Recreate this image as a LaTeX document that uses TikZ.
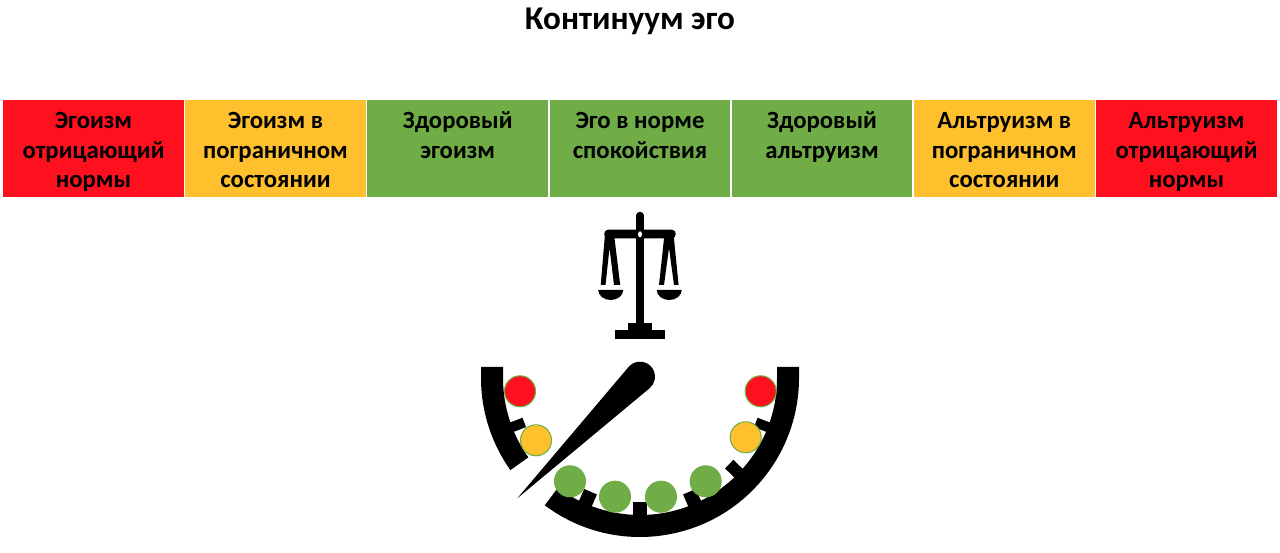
\documentclass[tikz,border=0pt]{standalone}
\usepackage{fontspec}
\setmainfont{Carlito}
\usetikzlibrary{positioning}
\definecolor{normred}{HTML}{FF101F}
\definecolor{normamber}{HTML}{FFC02E}
\definecolor{normgreen}{HTML}{70AD47}
\newcommand{\topstrut}{\rule{0pt}{16pt}}
\tikzset{
  cellbox/.style={inner sep=0pt,minimum height=55pt,text width=102.8pt,align=flush center,
    font=\fontsize{14.1}{17}\selectfont\bfseries},
  lamp/.style={draw=normgreen,line width=0.6pt},
  tick/.style={line width=#1,black},
  tick/.default=7.9pt,
  rope/.style={fill=black}
}
\begin{document}
\begin{tikzpicture}[x=0.02cm,y=0.02cm]
\useasboundingbox (0,0) rectangle (1280,553);
\node[font=\fontsize{18.9}{22}\selectfont\bfseries] (title) at (630,532) {Континуум эго};
% scale of cells
\node[cellbox,fill=normred] (cell1) at (93.5,404.5) {\topstrut Эгоизм\\\strut отрицающий\\\strut нормы};
\node[cellbox,fill=normamber] (cell2) at (275.5,404.5) {\topstrut Эгоизм в\\\strut пограничном\\\strut состоянии};
\node[cellbox,fill=normgreen] (cell3) at (457.7,404.5) {\topstrut Здоровый\\\strut эгоизм\\\strut};
\node[cellbox,fill=normgreen] (cell4) at (640,404.5) {\topstrut Эго в норме\\\strut спокойствия\\\strut};
\node[cellbox,fill=normgreen] (cell5) at (822,404.5) {\topstrut Здоровый\\\strut альтруизм\\\strut};
\node[cellbox,fill=normamber] (cell6) at (1004.3,404.5) {\topstrut Альтруизм в\\\strut пограничном\\\strut состоянии};
\node[cellbox,fill=normred] (cell7) at (1186.5,404.5) {\topstrut Альтруизм\\\strut отрицающий\\\strut нормы};
% balance
\draw[line width=4.2pt,line cap=round] (640,337.5) -- (640,315);
\fill (636.3,230) rectangle (643.7,320);
\fill[rounded corners=2.2pt] (604.3,314.5) rectangle (675.7,323.3);
\fill (640,318.7) circle (6);
\fill[white] (640,318.7) ellipse (2 and 3);
\fill (627.7,223) rectangle (652.3,230);
\fill (615,213.7) rectangle (665,223);
\fill[rope] (605,319) -- (600.7,268) -- (605.5,268) -- (609.5,305) -- (614,268) -- (620.2,268) -- (614,319) -- cycle;
\fill[rope] (664.5,319) -- (659,268) -- (664,268) -- (669,305) -- (674,268) -- (678.6,268) -- (673.5,319) -- cycle;
\fill (598.2,263) arc (180:360:12.5 and 10) -- cycle;
\fill (656.7,263) arc (180:360:12.5 and 10) -- cycle;
% dial
\begin{scope}[shift={(640,175)}]
\fill (215.4:159) arc (215.4:180:159) -- (-159,11) -- (-137,11) -- (-137,0) arc (180:215.4:137) -- cycle;
\fill (233.2:159) arc (233.2:360:159) -- (159,11) -- (137,11) -- (137,0) arc (360:233.2:137) -- cycle;
\draw[tick=5.7pt] (201:124) -- (201:140);
\draw[tick] (246.5:124) -- (246.5:140);
\draw[tick] (270:124) -- (270:140);
\draw[tick] (293.5:124) -- (293.5:140);
\draw[tick=6.8pt] (316:124) -- (316:140);
\draw[tick=5.7pt] (339:124) -- (339:140);
\end{scope}
\fill (517.3,54.7) -- (628.56,186) arc (139.7:-50.3:15) -- cycle;
\filldraw[lamp,fill=normred] (520,161.7) circle (15.5);
\filldraw[lamp,fill=normamber] (536,112.7) circle (15.5);
\filldraw[lamp,fill=normgreen] (570,71.7) circle (15.5);
\filldraw[lamp,fill=normgreen] (615,56.3) circle (15.5);
\filldraw[lamp,fill=normgreen] (661,56.3) circle (15.5);
\filldraw[lamp,fill=normgreen] (705.7,71.7) circle (15.5);
\filldraw[lamp,fill=normamber] (745.7,115.7) circle (15.5);
\filldraw[lamp,fill=normred] (760.7,161.7) circle (15.5);
\end{tikzpicture}
\end{document}
